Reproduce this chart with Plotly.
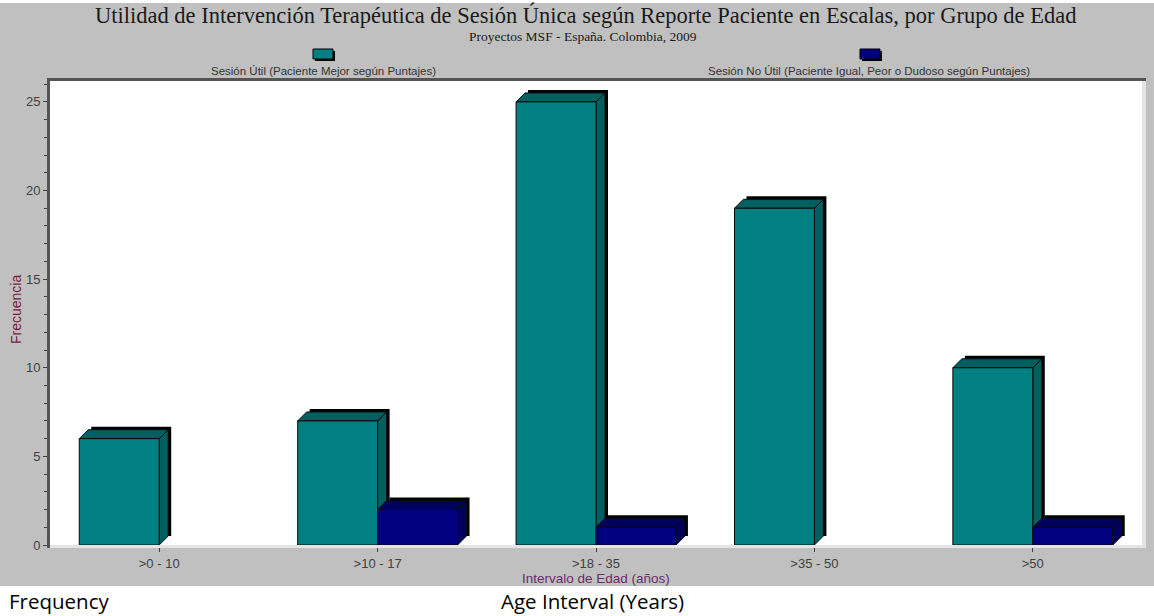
import plotly.graph_objects as go

CATEGORIES = [">0 - 10", ">10 - 17", ">18 - 35", ">35 - 50", ">50"]
UTIL = [6, 7, 25, 19, 10]
NO_UTIL = [0, 2, 1, 0, 1]

UTIL_NAME = "Sesión Útil (Paciente Mejor según Puntajes)"
NO_UTIL_NAME = "Sesión No Útil (Paciente Igual, Peor o Dudoso según Puntajes)"

TEAL = "#008080"
TEAL_DARK = "#005f5f"
NAVY = "#000080"
NAVY_DARK = "#00005f"
GRAY_BG = "#c0c0c0"
FRAME = "#555555"
TICK = "#404040"

W, H = 1154, 616
L, R, T, B = 50, 12, 81, 71
PW, PH = W - L - R, H - T - B
Y_MAX = 26.18
BAR_W = 0.366

# depth of the pseudo-3D faces, in pixels
DEPTH = 9
SHADOW = 3
dx = DEPTH / (PW / 5)
dy = DEPTH / (PH / Y_MAX)
sx = SHADOW / (PW / 5)
sy = SHADOW / (PH / Y_MAX)


def px(xp):
    return (xp - L) / PW


def py(yp):
    return (H - B - yp) / PH


idx = list(range(len(CATEGORIES)))

fig = go.Figure()
fig.add_trace(go.Bar(x=idx, y=[v if v else None for v in UTIL], name=UTIL_NAME, offset=-BAR_W, width=BAR_W,
                     marker=dict(color=TEAL, line=dict(color="#0a0a0a", width=1))))
fig.add_trace(go.Bar(x=idx, y=[v if v else None for v in NO_UTIL], name=NO_UTIL_NAME, offset=0, width=BAR_W,
                     marker=dict(color=NAVY, line=dict(color="#0a0a0a", width=1))))

shapes = []
faces = []
for values, off, dark in [(UTIL, -BAR_W, TEAL_DARK), (NO_UTIL, 0, NAVY_DARK)]:
    for i, v in zip(idx, values):
        if v <= 0:
            continue
        x0, x1 = i + off, i + off + BAR_W
        shapes.append(dict(type="rect", xref="x", yref="y", layer="below",
                           x0=x0 + dx + sx, x1=x1 + dx + sx, y0=dy, y1=v + dy + sy,
                           fillcolor="black", line=dict(width=0)))
        faces.append(dict(type="path", xref="x", yref="y", layer="below",
                          path=f"M{x1},0 L{x1 + dx},{dy} L{x1 + dx},{v + dy} L{x1},{v} Z",
                          fillcolor=dark, line=dict(color="#0a0a0a", width=1)))
        faces.append(dict(type="path", xref="x", yref="y", layer="below",
                          path=f"M{x0},{v} L{x0 + dx},{v + dy} L{x1 + dx},{v + dy} L{x1},{v} Z",
                          fillcolor=dark, line=dict(color="#0a0a0a", width=1)))
shapes += faces

# frame: light floor / right wall, dark top and left border
shapes += [
    dict(type="rect", xref="paper", yref="paper", x0=px(L), x1=px(1146), y0=py(548), y1=py(545),
         fillcolor="#e4e4e4", line=dict(width=0)),
    dict(type="rect", xref="paper", yref="paper", x0=px(1142), x1=px(1146), y0=py(548), y1=py(T),
         fillcolor="#e4e4e4", line=dict(width=0)),
    dict(type="rect", xref="paper", yref="paper", x0=px(47), x1=px(1146), y0=py(T), y1=py(78),
         fillcolor=FRAME, line=dict(width=0)),
    dict(type="rect", xref="paper", yref="paper", x0=px(47), x1=px(L), y0=py(548), y1=py(78),
         fillcolor=FRAME, line=dict(width=0)),
    # white caption band at bottom
    dict(type="rect", xref="paper", yref="paper", x0=px(0), x1=px(W), y0=py(H), y1=py(586),
         fillcolor="white", line=dict(width=0), layer="below"),
    dict(type="rect", xref="paper", yref="paper", x0=px(0), x1=px(W), y0=py(3), y1=py(0),
         fillcolor="white", line=dict(width=0), layer="below"),
]

# legend markers (small 3D squares)
for cx, color in [(323, TEAL), (870, NAVY)]:
    shapes.append(dict(type="rect", xref="paper", yref="paper",
                       x0=px(cx - 8), x1=px(cx + 12), y0=py(61), y1=py(51),
                       fillcolor="black", line=dict(width=0)))
    shapes.append(dict(type="rect", xref="paper", yref="paper",
                       x0=px(cx - 10), x1=px(cx + 10), y0=py(59), y1=py(49),
                       fillcolor=color, line=dict(color="black", width=1)))


def note(text, x, y, size, color, family="Liberation Sans", xanchor="center", **kw):
    return dict(text=text, x=px(x), y=py(y), xref="paper", yref="paper", showarrow=False,
                xanchor=xanchor, yanchor="middle", font=dict(family=family, size=size, color=color), **kw)


annotations = [
    note("Utilidad de Intervención Terapéutica de Sesión Única según Reporte Paciente en Escalas, por Grupo de Edad",
         585, 15, 22.5, "#1a1a1a", family="Liberation Serif"),
    note("Proyectos MSF - España. Colombia, 2009", 583, 37, 13.5, "#1a1a1a", family="Liberation Serif"),
    note(UTIL_NAME, 323, 71, 11.5, "#333333"),
    note(NO_UTIL_NAME, 869, 71, 11.5, "#333333"),
    note("Intervalo de Edad (años)", 596, 578, 13.5, "#6e2a6e"),
    note("Frecuencia", 16, 310, 14, "#7a1a40", textangle=-90),
    note("Frequency", 7, 601, 20.5, "black", family="Open Sans", xanchor="left"),
    note("Age Interval (Years)", 499, 601, 20.5, "black", family="Open Sans", xanchor="left"),
]

fig.update_layout(
    width=W, height=H,
    margin=dict(l=L, r=R, t=T, b=B),
    paper_bgcolor=GRAY_BG,
    plot_bgcolor="white",
    barmode="overlay",
    showlegend=False,
    shapes=shapes,
    annotations=annotations,
    font=dict(family="Liberation Sans", size=12, color=TICK),
)
fig.update_xaxes(
    range=[-0.5, 4.5], tickvals=idx, ticktext=CATEGORIES, showgrid=False, zeroline=False,
    ticks="outside", ticklen=6, tickcolor=TICK, tickwidth=1,
    tickfont=dict(family="Liberation Sans", size=13, color=TICK),
)
fig.update_yaxes(
    range=[0, Y_MAX], tickvals=[0, 5, 10, 15, 20, 25], showgrid=False, zeroline=False,
    ticks="outside", ticklen=6, tickcolor=TICK, tickwidth=1,
    minor=dict(dtick=1, ticks="outside", ticklen=5, tickcolor=TICK, showgrid=False),
    tickfont=dict(family="Liberation Sans", size=13, color=TICK),
)

fig.write_html("out.html", config={"displayModeBar": False},
               post_script="document.body.style.margin='0';")
